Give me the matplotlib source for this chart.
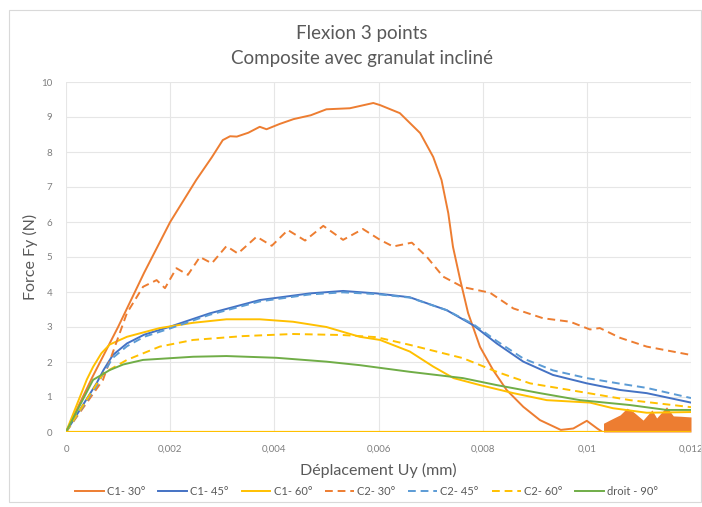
import matplotlib
matplotlib.use("Agg")
import matplotlib.pyplot as plt
from matplotlib.patches import Rectangle

plt.rcParams['font.family'] = ['Lato', 'DejaVu Sans']

# ---------------- data ----------------
c1_30_x = [0, 0.0005, 0.001, 0.0015, 0.002, 0.0025, 0.0028, 0.00301, 0.00315, 0.00328, 0.0035, 0.00372, 0.00385,
           0.0041, 0.00437, 0.0047, 0.0050, 0.00545, 0.0059,
           0.00603, 0.00641, 0.0068, 0.00705, 0.00721, 0.00734, 0.00743, 0.00757, 0.00772, 0.00795, 0.0082,
           0.00846, 0.00878, 0.0091, 0.0095, 0.00974, 0.0100, 0.0102, 0.0103]
c1_30_y = [0, 1.55, 3.0, 4.55, 6.0, 7.2, 7.85, 8.34, 8.45, 8.44, 8.55, 8.72, 8.65,
           8.8, 8.94, 9.05, 9.22, 9.25, 9.4,
           9.34, 9.11, 8.54, 7.86, 7.2, 6.25, 5.29, 4.34, 3.4, 2.43, 1.77,
           1.2, 0.72, 0.34, 0.06, 0.1, 0.32, 0.1, 0.0]
# noisy tail of C1-30° (upper envelope of the oscillation band)
c1_30_band_x = [0.01032, 0.01045, 0.01064, 0.01077, 0.01089, 0.01108, 0.01125, 0.01134, 0.01153, 0.01166, 0.0118, 0.0120]
c1_30_band_y = [0.25, 0.35, 0.49, 0.68, 0.58, 0.34, 0.63, 0.40, 0.72, 0.46, 0.45, 0.43]

c1_45_x = [0, 0.00059, 0.00072, 0.0009, 0.00117, 0.0015, 0.0020, 0.00276, 0.00372, 0.00468, 0.00532, 0.00596, 0.0066,
           0.00731, 0.00782, 0.00827, 0.00878, 0.00935, 0.0100, 0.01064, 0.01115, 0.0120]
c1_45_y = [0, 1.40, 1.77, 2.2, 2.53, 2.78, 3.01, 3.39, 3.77, 3.96, 4.03, 3.96, 3.85,
           3.48, 3.05, 2.53, 2.01, 1.63, 1.39, 1.20, 1.11, 0.84]

c2_45_x = [0, 0.00059, 0.00072, 0.0009, 0.00117, 0.0015, 0.0020, 0.00276, 0.00372, 0.00468, 0.00532, 0.00596, 0.0066,
           0.00731, 0.00782, 0.00827, 0.00878, 0.00935, 0.0100, 0.01064, 0.01115, 0.0120]
c2_45_y = [0, 1.32, 1.68, 2.12, 2.45, 2.72, 2.96, 3.35, 3.73, 3.93, 3.99, 3.94, 3.84,
           3.48, 3.08, 2.60, 2.10, 1.76, 1.54, 1.38, 1.26, 0.97]

c1_60_x = [0, 0.0004, 0.00052, 0.00068, 0.00084, 0.00117, 0.0018, 0.00244, 0.00308, 0.00372, 0.00436, 0.0050, 0.00564,
           0.00603, 0.0066, 0.00705, 0.00744, 0.00795, 0.00859, 0.00923, 0.01006, 0.0105, 0.01115, 0.0120]
c1_60_y = [0, 1.5, 1.86, 2.25, 2.5, 2.72, 2.97, 3.12, 3.22, 3.22, 3.15, 3.0, 2.72,
           2.63, 2.30, 1.87, 1.54, 1.34, 1.11, 0.91, 0.84, 0.68, 0.55, 0.57]

c2_30_x = [0, 0.00071, 0.00117, 0.00148, 0.00174, 0.0019, 0.00212, 0.00234, 0.00257, 0.0028, 0.00308,
           0.0033, 0.00366, 0.00395, 0.00426, 0.00459, 0.00494, 0.00532, 0.0057, 0.00603, 0.00628,
           0.00664, 0.00693, 0.00724, 0.00762, 0.00814, 0.00859, 0.00916, 0.00968, 0.01006, 0.01025,
           0.01064, 0.01115, 0.0120]
c2_30_y = [0, 1.49, 3.4, 4.15, 4.34, 4.11, 4.68, 4.49, 5.0, 4.82, 5.31,
           5.1, 5.58, 5.32, 5.77, 5.47, 5.89, 5.49, 5.8, 5.49, 5.3,
           5.41, 5.0, 4.44, 4.14, 3.98, 3.53, 3.25, 3.15, 2.93, 2.97,
           2.69, 2.44, 2.2]

c2_60_x = [0, 0.00072, 0.00117, 0.0018, 0.00244, 0.0034, 0.00436, 0.00532, 0.00596, 0.0066,
           0.00762, 0.00827, 0.00891, 0.00987, 0.01083, 0.0120]
c2_60_y = [0, 1.68, 2.06, 2.44, 2.63, 2.74, 2.8, 2.77, 2.71, 2.49,
           2.11, 1.72, 1.39, 1.15, 0.91, 0.71]

droit_x = [0, 0.00052, 0.00084, 0.0011, 0.00148, 0.00244, 0.00308, 0.00404, 0.0050, 0.00564, 0.0066,
           0.00762, 0.00827, 0.0091, 0.00987, 0.01083, 0.01153, 0.0120]
droit_y = [0, 1.49, 1.77, 1.93, 2.06, 2.15, 2.17, 2.12, 2.01, 1.91, 1.72,
           1.54, 1.34, 1.11, 0.91, 0.77, 0.63, 0.63]

zero_x = [0, 0.012]
zero_y = [0, 0]

x_ticks = [0, 0.002, 0.004, 0.006, 0.008, 0.01, 0.012]
x_tick_labels = ['0', '0,002', '0,004', '0,006', '0,008', '0,01', '0,012']
y_ticks = [0, 1, 2, 3, 4, 5, 6, 7, 8, 9, 10]

# ---------------- styling ----------------
ORANGE = '#ED7D31'
BLUE = '#4472C4'
LBLUE = '#5B9BD5'
YELLOW = '#FFC000'
GREEN = '#70AD47'
TXT = '#595959'

fig = plt.figure(figsize=(7.02, 5.07), dpi=100)
fig.patches.append(Rectangle((0.013, 0.01), 0.985, 0.97, transform=fig.transFigure,
                             fill=False, edgecolor='#d9d9d9', linewidth=0.8))
ax = fig.add_axes([66/702, 75/507, 625/702, 350/507])

lw = 1.4
dash = (0, (4, 2.5))
ax.plot(c1_30_x, c1_30_y, color=ORANGE, lw=lw, label='C1- 30°')
ax.fill_between(c1_30_band_x, 0, c1_30_band_y, color=ORANGE, lw=0)
ax.plot(c1_45_x, c1_45_y, color=BLUE, lw=lw, label='C1- 45°')
ax.plot(c1_60_x, c1_60_y, color=YELLOW, lw=lw, label='C1- 60°')
ax.plot(c2_30_x, c2_30_y, color=ORANGE, lw=lw, ls=dash, label='C2- 30°')
ax.plot(c2_45_x, c2_45_y, color=LBLUE, lw=lw, ls=dash, label='C2- 45°')
ax.plot(c2_60_x, c2_60_y, color=YELLOW, lw=lw, ls=dash, label='C2- 60°')
ax.plot(droit_x, droit_y, color=GREEN, lw=lw, label='droit - 90°')
ax.plot(zero_x, zero_y, color=YELLOW, lw=1.6, label='_nolegend_')

ax.set_xlim(0, 0.012)
ax.set_ylim(0, 10)
ax.set_xticks(x_ticks)
ax.set_xticklabels(x_tick_labels)
ax.set_yticks(y_ticks)
ax.grid(True, color='#e6e6e6', lw=0.8)
ax.set_axisbelow(True)
for s in ax.spines.values():
    s.set_visible(False)
ax.tick_params(length=0, labelsize=7, colors='#7f7f7f')
ax.tick_params(axis='y', pad=10)
ax.tick_params(axis='x', pad=9)

ax.set_xlabel('Déplacement Uy (mm)', fontsize=11.5, color=TXT, labelpad=7)
ax.set_ylabel('Force Fy (N)', fontsize=11.5, color=TXT, labelpad=2)

fig.text(0.516, 0.933, 'Flexion 3 points', ha='center', va='center', fontsize=13.5, color=TXT)
fig.text(0.516, 0.885, 'Composite avec granulat incliné', ha='center', va='center', fontsize=13.5, color=TXT)

leg = fig.legend(loc='center', bbox_to_anchor=(0.522, 0.03), ncol=7, frameon=False,
                 fontsize=8, handlelength=2.6, columnspacing=1.15, handletextpad=0.3)
for t in leg.get_texts():
    t.set_color(TXT)

fig.savefig('out.png', dpi=100)
